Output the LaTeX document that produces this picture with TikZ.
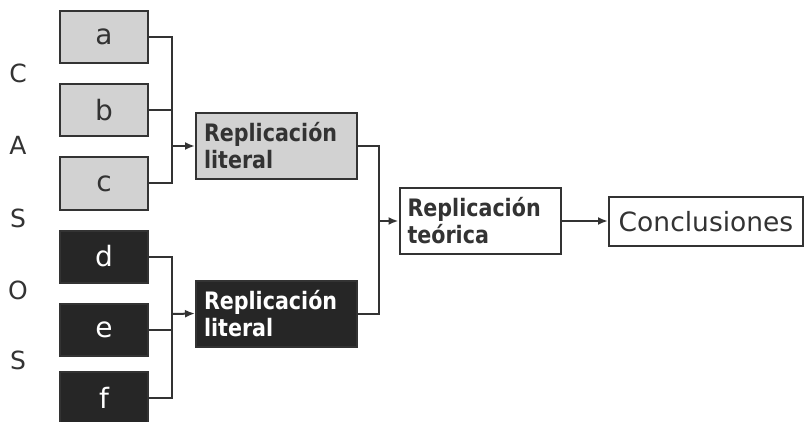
\documentclass[tikz,border=0pt]{standalone}
\usepackage{fontspec}
\setmainfont{DejaVu Sans}
\newfontfamily\narrowbold[FakeStretch=0.86]{DejaVu Sans Bold}
\usetikzlibrary{arrows.meta}
\definecolor{lgray}{HTML}{D2D2D2}
\definecolor{dgray}{HTML}{262626}
\definecolor{lcol}{HTML}{333333}
\begin{document}
\begin{tikzpicture}[x=1pt,y=-1pt,
  casebox/.style={draw=lcol,line width=2pt,minimum width=88pt,minimum height=52pt,inner sep=0pt,font=\fontsize{28}{28}\selectfont},
  lightbox/.style={casebox,fill=lgray,text=lcol},
  darkbox/.style={casebox,fill=dgray,text=white},
  repbox/.style={draw=lcol,line width=2pt,minimum width=161pt,minimum height=66pt,inner sep=0pt,text width=145pt,align=left,font=\fontsize{24}{27}\narrowbold},
  conn/.style={draw=lcol,line width=2pt},
  arr/.style={conn,-{Latex[length=10pt,width=8pt]}},
  casos/.style={text=lcol,font=\fontsize{25}{25}\selectfont}
]
\useasboundingbox (0,0) rectangle (805,422);
\node[lightbox] (a) at (104,37) {a};
\node[lightbox] (b) at (104,110.5) {b};
\node[lightbox] (c) at (104,183.5) {c};
\node[darkbox] (d) at (104,256.5) {d};
\node[darkbox] (e) at (104,329.5) {e};
\node[darkbox] (f) at (104,398) {f};
\node[repbox,fill=lgray,text=lcol] (r1) at (276.5,146) {Replicación\\literal};
\node[repbox,fill=dgray,text=white] (r2) at (276.5,313.5) {Replicación\\literal};
\node[repbox,fill=white,text=lcol] (rt) at (480,221) {Replicación\\teórica};
\node[draw=lcol,line width=2pt,minimum width=194pt,minimum height=49pt,inner sep=0pt,font=\fontsize{26.5}{26.5}\selectfont,text=lcol] (cc) at (706,221.5) {Conclusiones};
\coordinate (j1) at (172,146);
\coordinate (j2) at (172,314);
\coordinate (j3) at (379,221);
\draw[conn] (a.east) -| (c.east -| j1) -- (c.east);
\draw[conn] (b.east) -- (b.east -| j1);
\draw[arr] (j1) -- (r1.west);
\draw[conn] (d.east) -| (f.east -| j2) -- (f.east);
\draw[conn] (e.east) -- (e.east -| j2);
\draw[arr] (j2) -- (r2.west);
\draw[conn] (r1.east) -| (r2.east -| j3) -- (r2.east);
\draw[arr] (j3) -- (rt.west);
\draw[arr] (rt.east) -- (rt.east -| cc.west);
\node[casos] (l1) at (18,73) {C};
\node[casos] (l2) at (18,145) {A};
\node[casos] (l3) at (18,218) {S};
\node[casos] (l4) at (18,290) {O};
\node[casos] (l5) at (18,360) {S};
\end{tikzpicture}
\end{document}
